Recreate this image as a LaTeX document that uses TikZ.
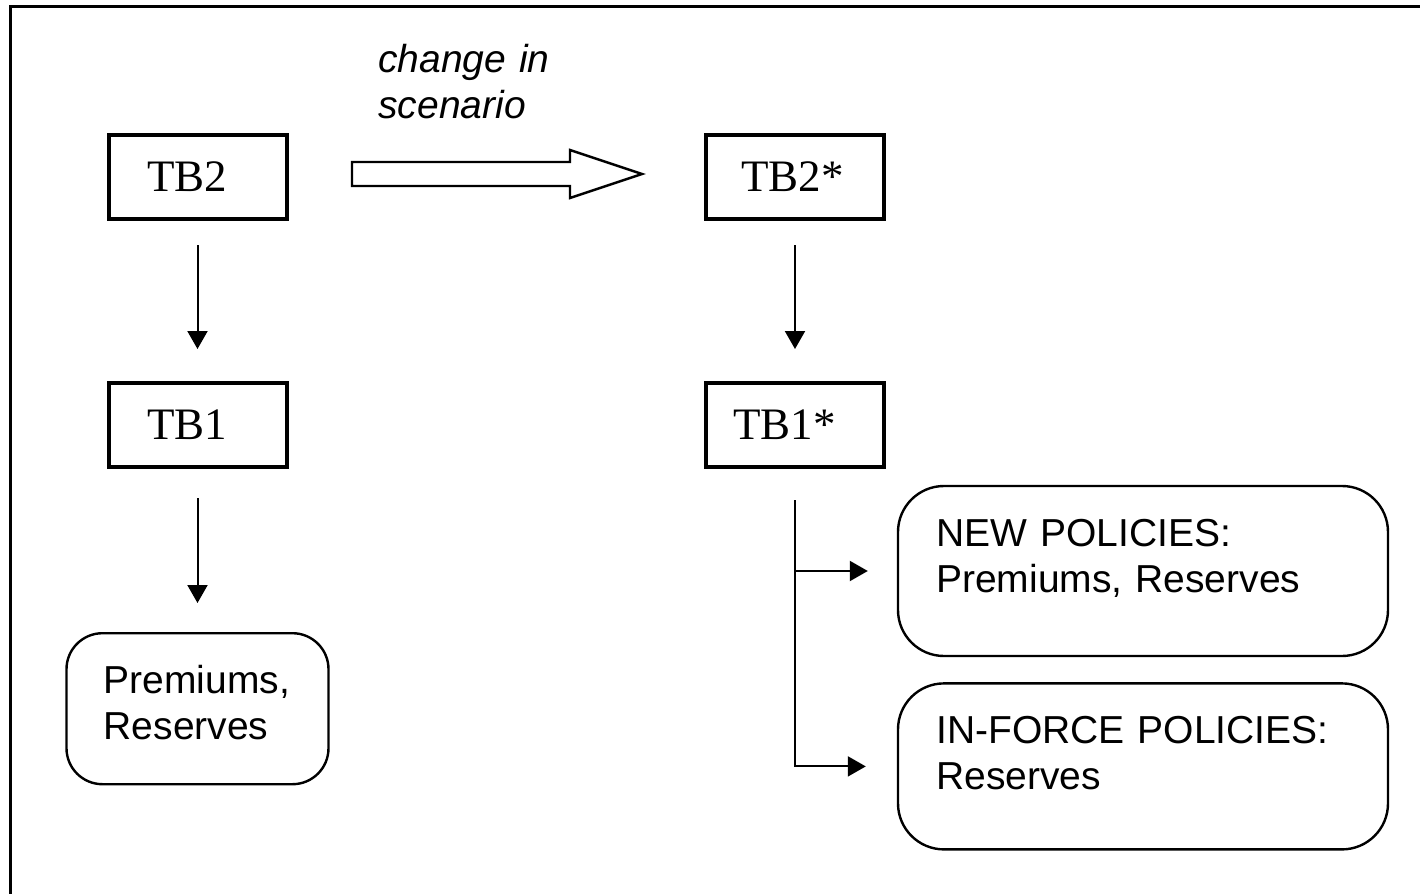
\documentclass[tikz,border=0pt]{standalone}
\usepackage{fontspec}
\setmainfont{Liberation Serif}
\setsansfont{Liberation Sans}
\usetikzlibrary{positioning,arrows.meta,calc}
\newcommand{\tbfont}{\fontsize{22.5}{27}\selectfont}
\newcommand{\boxfont}{\sffamily\fontsize{19.5}{23}\selectfont}
\tikzset{
	tbbox/.style={draw, line width=2pt, minimum width=89pt, minimum height=42pt, align=left, font=\tbfont},
	roundbox/.style={draw, line width=1.2pt, rounded corners=#1},
	roundbox/.default=23pt,
	boxtext/.style={inner sep=0pt, anchor=base west, text width=200pt, align=left, font=\boxfont},
	flow/.style={line width=1pt, -{Triangle[length=9pt,width=10pt]}},
	hollow/.style={draw, line width=1.2pt, line join=miter}
}

\begin{document}
\begin{tikzpicture}[x=0.5pt, y=-0.5pt]
	\useasboundingbox (0,0) rectangle (1420,894);
	\draw[line width=1.5pt] (10,894) -- (10,6) -- (1420,6);

	\node[tbbox, inner xsep=19.25pt, text width=50.5pt] (tb2) at (197.5,177) {TB2};
	\node[tbbox, inner xsep=19.25pt, text width=50.5pt, below=80pt of tb2] (tb1) {TB1};
	\node[roundbox=18pt, minimum width=131pt, minimum height=75.5pt, below=81.5pt of tb1] (prem) {};
	\node[boxtext] (premtxt) at ([shift={(38,61)}]prem.north west) {Premiums,\\Reserves};

	\node[tbbox, inner xsep=17.5pt, text width=54pt, right=207.75pt of tb2] (tb2s) {TB2*};
	\node[tbbox, inner xsep=13.5pt, text width=62pt, below=80pt of tb2s] (tb1s) {TB1*};
	\node[roundbox, minimum width=245pt, minimum height=85pt] (newpol) at (1143,571) {};
	\node[roundbox, minimum width=245pt, minimum height=83pt, below=12.5pt of newpol] (infpol) {};
	\node[boxtext] (newtxt) at ([shift={(39,62)}]newpol.north west) {NEW POLICIES:\\Premiums, Reserves};
	\node[boxtext] (inftxt) at ([shift={(39,61)}]infpol.north west) {IN-FORCE POLICIES:\\Reserves};

	\coordinate (chg) at (352,162);
	\draw[hollow] (chg) -- ++(218,0) -- ++(0,-12) -- ++(72,24) -- ++(-72,24) -- ++(0,-12) -- ++(-218,0) -- cycle;
	\node[boxtext, font=\boxfont\itshape] (chglbl) at (378,72) {change in\\scenario};

	\draw[flow, shorten <=12pt, shorten >=16pt] (tb2) -- (tb1);
	\draw[flow, shorten <=14.5pt, shorten >=14.5pt] (tb1) -- (prem);
	\draw[flow, shorten <=12pt, shorten >=16pt] (tb2s) -- (tb1s);
	\coordinate (split) at ([yshift=-15.5pt]tb1s.south);
	\draw[flow, shorten >=14.5pt] (split) |- (newpol.west);
	\draw[flow, shorten >=15.5pt] (split) |- (infpol.west);
\end{tikzpicture}
\end{document}
